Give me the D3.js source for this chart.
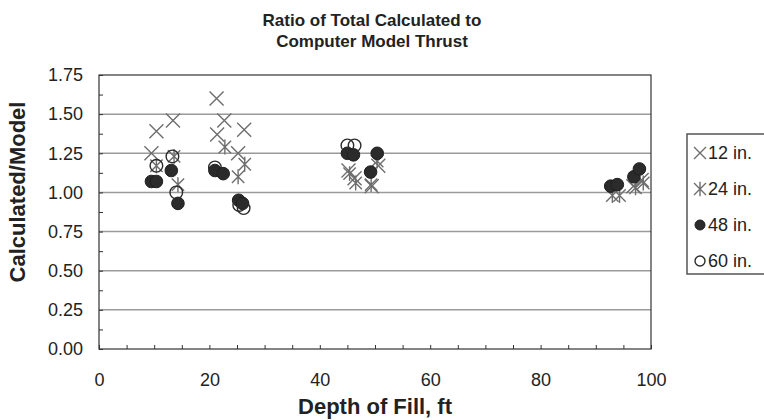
<!DOCTYPE html>
<html>
<head>
<meta charset="utf-8">
<script src="https://cdn.jsdelivr.net/npm/d3@7"></script>
<style>
  html, body { margin: 0; padding: 0; background: #fff; }
  svg { display: block; font-family: "Liberation Sans", Arial, sans-serif; }
</style>
</head>
<body>
<svg id="chart" width="764" height="420"></svg>
<script>
// Depth of fill (ft) and ratio calculated/model, one pair of arrays per pipe diameter
const depth12 = [9.5, 10.4, 13.4, 21.3, 22.7, 21.4, 26.3, 25.2, 45.2, 46.3, 49.4, 50.6, 96.8, 98.3];
const ratio12 = [1.25, 1.39, 1.46, 1.60, 1.46, 1.37, 1.40, 1.25, 1.14, 1.09, 1.04, 1.17, 1.04, 1.08];

const depth24 = [10.4, 13.6, 14.3, 22.8, 26.4, 25.2, 45.4, 46.5, 49.3, 50.4, 93.0, 94.3, 97.2, 98.6];
const ratio24 = [1.17, 1.23, 1.05, 1.29, 1.18, 1.10, 1.12, 1.06, 1.05, 1.20, 0.98, 0.98, 1.03, 1.06];

const depth48 = [9.5, 10.4, 13.1, 14.3, 21.0, 22.5, 25.3, 26.0, 45.0, 46.1, 49.2, 50.4, 92.7, 93.9, 96.9, 97.9];
const ratio48 = [1.07, 1.07, 1.14, 0.93, 1.14, 1.12, 0.95, 0.93, 1.25, 1.24, 1.13, 1.25, 1.04, 1.05, 1.10, 1.15];

const depth60 = [10.4, 13.3, 14.0, 21.0, 25.4, 26.2, 45.0, 46.3];
const ratio60 = [1.17, 1.23, 1.00, 1.16, 0.92, 0.90, 1.30, 1.30];

const xTicks = [0, 20, 40, 60, 80, 100];
const yTicks = [0, 0.25, 0.5, 0.75, 1.0, 1.25, 1.5, 1.75];
const legendLabels = ["12 in.", "24 in.", "48 in.", "60 in."];
const titleLines = ["Ratio of Total Calculated to", "Computer Model Thrust"];

const svg = d3.select("#chart");
const plot = { left: 99, right: 651, top: 75, bottom: 349 };

const x = d3.scaleLinear().domain([0, 100]).range([plot.left, plot.right]);
const y = d3.scaleLinear().domain([0, 1.75]).range([plot.bottom, plot.top]);

const gridColor = "#9a9a9a";
const axisColor = "#333";
const markGray = "#6e6e6e";

// Horizontal gridlines
svg.append("g").selectAll("line")
  .data(yTicks.filter(d => d > 0 && d < 1.75))
  .join("line")
  .attr("x1", plot.left).attr("x2", plot.right)
  .attr("y1", d => y(d)).attr("y2", d => y(d))
  .attr("stroke", gridColor).attr("stroke-width", 1.5);

// Plot frame
svg.append("rect")
  .attr("x", plot.left).attr("y", plot.top)
  .attr("width", plot.right - plot.left).attr("height", plot.bottom - plot.top)
  .attr("fill", "none").attr("stroke", axisColor).attr("stroke-width", 1.2);

// X axis: minor ticks every 5 ft pointing inward, labels every 20
const xAxis = d3.axisBottom(x)
  .tickValues(d3.range(0, 101, 5))
  .tickSize(-4)
  .tickPadding(24)
  .tickFormat(d => xTicks.includes(d) ? d : "");
const gx = svg.append("g").attr("transform", `translate(0,${plot.bottom})`).call(xAxis);
gx.select(".domain").remove();
gx.selectAll(".tick line").attr("stroke", axisColor);
gx.selectAll(".tick text").attr("font-size", 18).attr("fill", "#222");

// Y axis: ticks every 0.125 pointing inward, labels every 0.25
const yAxis = d3.axisLeft(y)
  .tickValues(d3.range(0, 1.751, 0.125))
  .tickSize(-4)
  .tickPadding(16)
  .tickFormat(d => yTicks.some(t => Math.abs(t - d) < 1e-9) ? d3.format(".2f")(d) : "");
const gy = svg.append("g").attr("transform", `translate(${plot.left},0)`).call(yAxis);
gy.select(".domain").remove();
gy.selectAll(".tick line").attr("stroke", axisColor);
gy.selectAll(".tick text").attr("font-size", 18).attr("fill", "#222");

// Axis titles
svg.append("text")
  .attr("x", (plot.left + plot.right) / 2).attr("y", 414)
  .attr("text-anchor", "middle").attr("font-weight", "bold").attr("font-size", 22)
  .attr("fill", "#222").text("Depth of Fill, ft");

svg.append("text")
  .attr("transform", `translate(25,${(plot.top + plot.bottom) / 2 - 20}) rotate(-90)`)
  .attr("text-anchor", "middle").attr("font-weight", "bold").attr("font-size", 22)
  .attr("fill", "#222").text("Calculated/Model");

// Title
svg.append("text")
  .attr("x", 372).attr("y", 26)
  .attr("text-anchor", "middle").attr("font-weight", "bold").attr("font-size", 17)
  .attr("fill", "#222")
  .selectAll("tspan").data(titleLines).join("tspan")
  .attr("x", 372).attr("dy", (d, i) => i === 0 ? 0 : 21).text(d => d);

// Marker drawing helpers
const r = 6.3;
function cross(g, s) {
  g.append("path").attr("d", `M${-s},${-s}L${s},${s}M${-s},${s}L${s},${-s}`)
    .attr("stroke", markGray).attr("stroke-width", 1.4).attr("fill", "none");
}
function star(g, s) {
  g.append("path").attr("d", `M${-s},${-s}L${s},${s}M${-s},${s}L${s},${-s}M0,${-s * 1.2}L0,${s * 1.2}`)
    .attr("stroke", markGray).attr("stroke-width", 1.4).attr("fill", "none");
}
function dot(g, rr) {
  g.append("circle").attr("r", rr).attr("fill", "#2b2b2b").attr("stroke", "#1e1e1e").attr("stroke-width", 1);
}
function ring(g, rr) {
  g.append("circle").attr("r", rr).attr("fill", "none").attr("stroke", "#2b2b2b").attr("stroke-width", 1.4);
}

const series = [
  { xs: depth12, ys: ratio12, draw: g => cross(g, 7) },
  { xs: depth24, ys: ratio24, draw: g => star(g, 6.2) },
  { xs: depth48, ys: ratio48, draw: g => dot(g, r) },
  { xs: depth60, ys: ratio60, draw: g => ring(g, r) }
];

const marks = svg.append("g");
series.forEach(s => {
  marks.append("g").selectAll("g")
    .data(d3.zip(s.xs, s.ys))
    .join("g")
    .attr("transform", d => `translate(${x(d[0])},${y(d[1])})`)
    .each(function () { s.draw(d3.select(this)); });
});

// Legend
const legend = svg.append("g");
legend.append("rect")
  .attr("x", 687).attr("y", 134).attr("width", 90).attr("height", 140)
  .attr("fill", "#fff").attr("stroke", "#555").attr("stroke-width", 1.5);

const legendDraw = [g => cross(g, 6), g => star(g, 6), g => dot(g, 5), g => ring(g, 5)];
legendLabels.forEach((lab, i) => {
  const cy = 153 + i * 36;
  const g = legend.append("g").attr("transform", `translate(700,${cy})`);
  legendDraw[i](g);
  legend.append("text").attr("x", 708).attr("y", cy).attr("dy", "0.35em")
    .attr("font-size", 18).attr("fill", "#222").text(lab);
});
</script>
</body>
</html>
